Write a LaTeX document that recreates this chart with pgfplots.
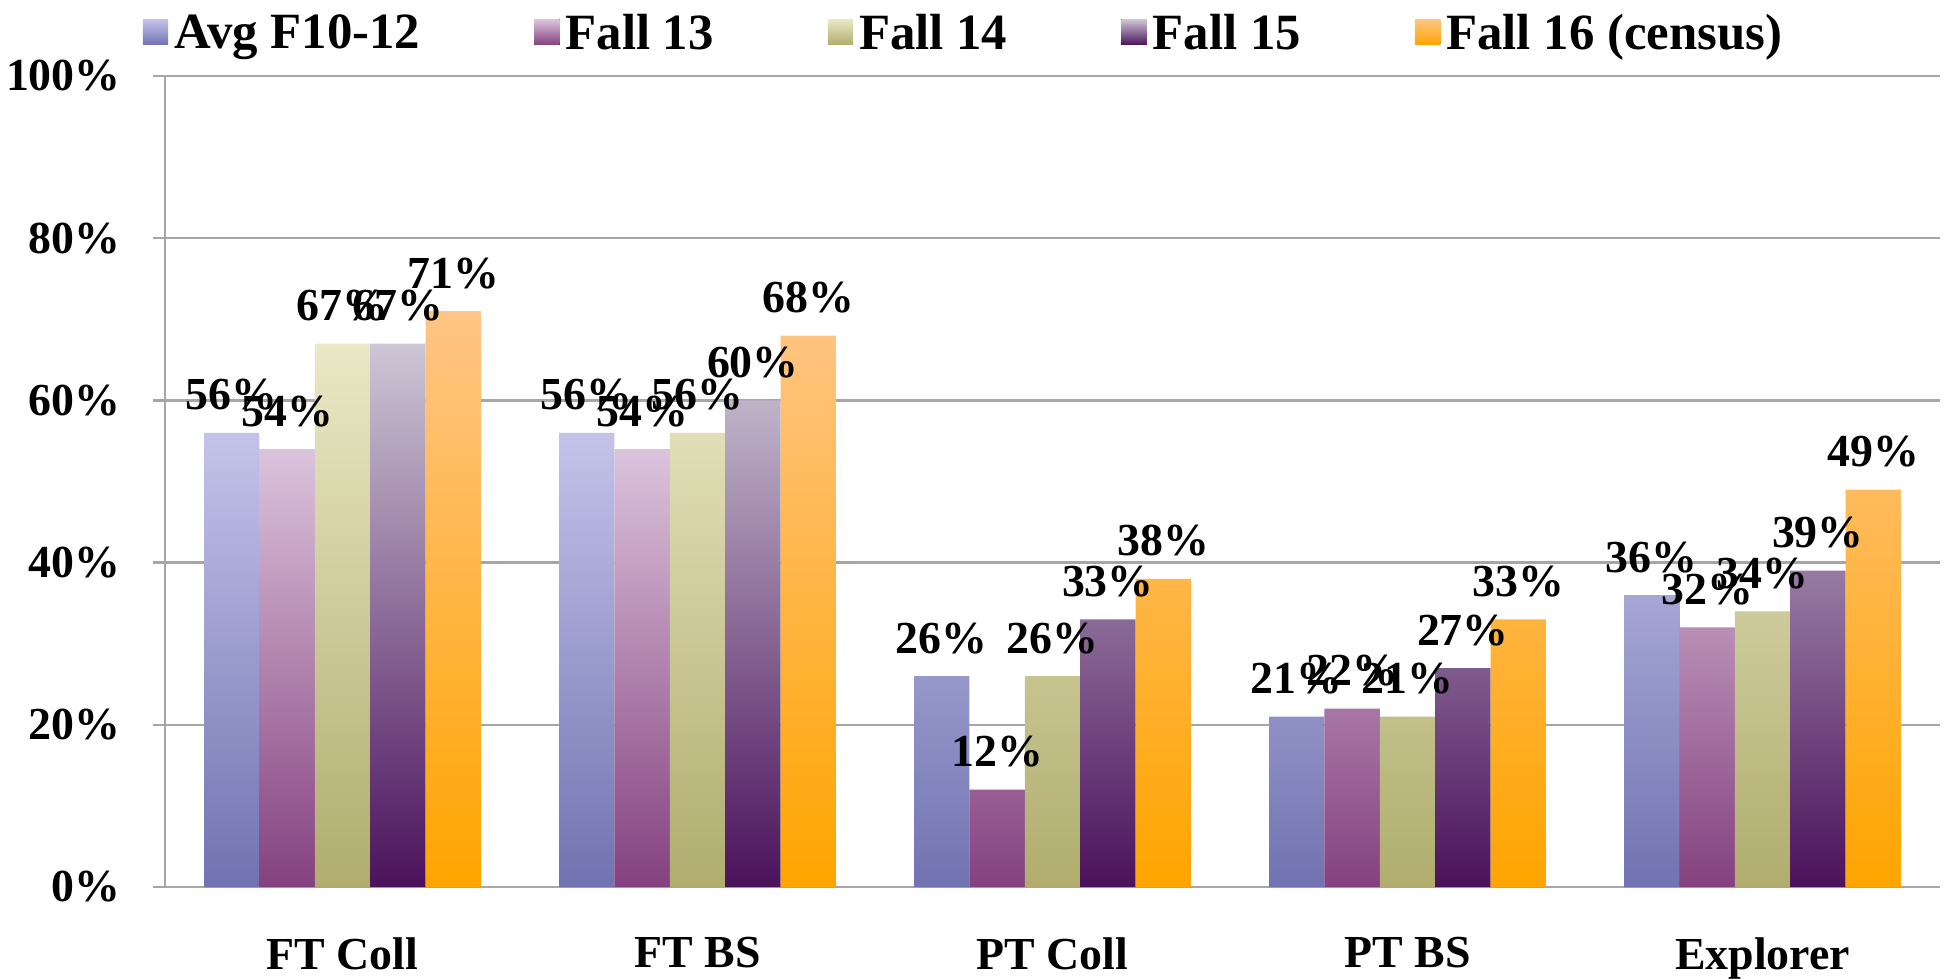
\documentclass[border=0pt]{standalone}
\usepackage{fontspec}
\setmainfont{Liberation Serif}
\usepackage{pgfplots}
\usepackage{pgfplotstable}
\pgfplotsset{compat=1.18}
\definecolor{gridgray}{HTML}{A6A6A6}
\definecolor{aT}{HTML}{C3C3EA}\definecolor{aB}{HTML}{7073B0}
\definecolor{bT}{HTML}{DCC3DC}\definecolor{bB}{HTML}{84417F}
\definecolor{cT}{HTML}{EAE8C5}\definecolor{cB}{HTML}{B0AD6E}
\definecolor{dT}{HTML}{CDC6D5}\definecolor{dB}{HTML}{4B125C}
\definecolor{eT}{HTML}{FFC585}\definecolor{eB}{HTML}{FFA500}
\pgfplotstableread{
x A B C D E
0 56 54 67 67 71
1 56 54 56 60 68
2 26 12 26 33 38
3 21 22 21 27 33
4 36 32 34 39 49
}\datatable
\newcommand{\tf}{\fontsize{23}{27}\selectfont\bfseries}
\newcommand{\lf}{\fontsize{25.5}{30}\selectfont\bfseries}
\begin{document}
\begin{tikzpicture}
\begin{axis}[
  scale only axis,
  width=887.5bp, height=405.5bp,
  xmin=-0.5, xmax=4.5, ymin=0, ymax=100,
  ybar, bar width=0.156,
  axis x line*=bottom, axis y line*=left,
  axis line style={gridgray, line width=1.2bp},
  ymajorgrids, grid style={gridgray, line width=1.2bp},
  ytick={0,20,...,100},
  yticklabel={\pgfmathprintnumber{\tick}\%},
  /pgf/number format/assume math mode=true,
  ytick style={gridgray, line width=1.2bp},
  tick align=outside, major tick length=6bp,
  yticklabel style={font=\tf, inner sep=0pt, xshift=-16bp},
  xtick={0,1,2,3,4},
  xticklabels={FT Coll, FT BS, PT Coll, PT BS, Explorer},
  xtick style={draw=none},
  xticklabel style={font=\tf, anchor=north, inner sep=0pt, yshift=-19bp},
  extra x ticks={-0.5,0.5,1.5,2.5,3.5,4.5},
  extra x tick labels={},
  extra x tick style={grid=none, tick style={draw=gridgray, line width=1.2bp}, major tick length=6bp},
  legend columns=5,
  legend style={draw=none, fill=none, font=\lf, at={(rel axis cs:0.451,1.053)}, anchor=center,
    /tikz/every even column/.append style={column sep=54bp},
    nodes={inner xsep=3bp}},
  legend image code/.code={\fill[#1, draw=none] (0bp,-5.9bp) rectangle (12.7bp,6.8bp);},
  clip=false,
]
\addplot[draw=none, top color=aT, bottom color=aB, bar shift=-0.312] table[x=x,y=A]{\datatable};
\addplot[draw=none, top color=bT, bottom color=bB, bar shift=-0.156] table[x=x,y=B]{\datatable};
\addplot[draw=none, top color=cT, bottom color=cB, bar shift=0] table[x=x,y=C]{\datatable};
\addplot[draw=none, top color=dT, bottom color=dB, bar shift=0.156] table[x=x,y=D]{\datatable};
\addplot[draw=none, top color=eT, bottom color=eB, bar shift=0.312] table[x=x,y=E]{\datatable};
\legend{Avg F10-12, Fall 13, Fall 14, Fall 15, Fall 16 (census)}
\pgfplotsset{every node near coord/.append style={font=\tf, text=black, anchor=south, inner sep=0pt, yshift=11bp}}
\addplot[draw=none, fill=none, forget plot, bar shift=-0.312, nodes near coords={\pgfmathprintnumber{\pgfplotspointmeta}\%}] table[x=x,y=A]{\datatable};
\addplot[draw=none, fill=none, forget plot, bar shift=-0.156, nodes near coords={\pgfmathprintnumber{\pgfplotspointmeta}\%}] table[x=x,y=B]{\datatable};
\addplot[draw=none, fill=none, forget plot, bar shift=0, nodes near coords={\pgfmathprintnumber{\pgfplotspointmeta}\%}] table[x=x,y=C]{\datatable};
\addplot[draw=none, fill=none, forget plot, bar shift=0.156, nodes near coords={\pgfmathprintnumber{\pgfplotspointmeta}\%}] table[x=x,y=D]{\datatable};
\addplot[draw=none, fill=none, forget plot, bar shift=0.312, nodes near coords={\pgfmathprintnumber{\pgfplotspointmeta}\%}] table[x=x,y=E]{\datatable};
\end{axis}
\pgfresetboundingbox
\path[use as bounding box] (-82.5bp,-46bp) rectangle (889.5bp,443.5bp);
\end{tikzpicture}
\end{document}
